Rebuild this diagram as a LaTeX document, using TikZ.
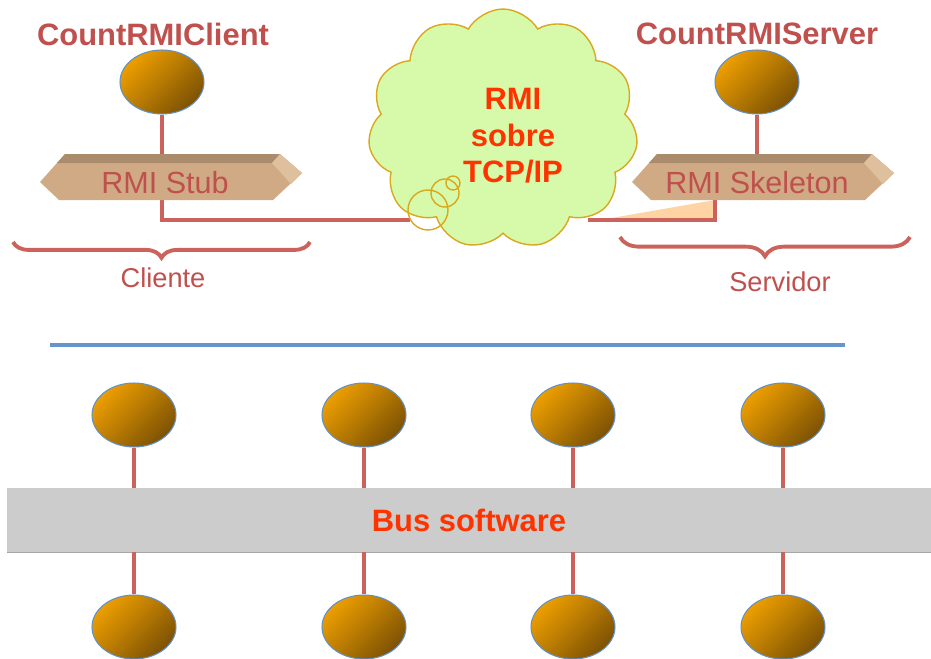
\documentclass[tikz,border=0pt]{standalone}
\usepackage{fontspec}
\setmainfont{Liberation Sans}
\usetikzlibrary{shapes.geometric,shapes.symbols,decorations.pathreplacing}

\definecolor{rojotxt}{RGB}{192,80,77}
\definecolor{linea}{RGB}{204,98,92}
\definecolor{naranja}{RGB}{236,158,0}
\definecolor{marron}{RGB}{125,82,4}
\definecolor{bordeazul}{RGB}{95,145,205}
\definecolor{verdenube}{RGB}{214,250,170}
\definecolor{bordenube}{RGB}{218,168,30}
\definecolor{rojovivo}{RGB}{255,51,0}
\definecolor{gris}{RGB}{204,204,204}
\definecolor{azulsep}{RGB}{100,150,205}
\definecolor{durazno}{RGB}{255,212,165}
\definecolor{caja}{RGB}{207,170,133}
\definecolor{cajatop}{RGB}{170,140,108}
\definecolor{cajabisel}{RGB}{222,192,158}

\pgfdeclarelayer{background}
\pgfsetlayers{background,main}

\begin{document}
\begin{tikzpicture}[x=0.02cm,y=-0.02cm,
  nodo/.style={ellipse, draw=bordeazul, line width=0.6pt, top color=naranja,
    bottom color=marron, shading angle=45, minimum width=1.68cm,
    minimum height=1.28cm, inner sep=0pt},
  link/.style={draw=linea, line width=2.4pt},
  titulo/.style={font=\bfseries\fontsize{17.6}{21}\selectfont, text=rojotxt},
  cajatxt/.style={font=\fontsize{17.4}{21}\selectfont, text=rojotxt},
  etiqueta/.style={font=\fontsize{15.5}{19}\selectfont, text=rojotxt},
  llave/.style={draw=linea, line width=2.2pt, decorate},
  rojo/.style={font=\bfseries\fontsize{17.6}{20.7}\selectfont, text=rojovivo}]

\useasboundingbox (0,0) rectangle (931,659);

% titles and upper objects
\node[titulo] (tcli) at (153,34) {CountRMIClient};
\node[titulo] (tsrv) at (757,34) {CountRMIServer};
\node[nodo] (cli) at (162,82) {};
\node[nodo] (srv) at (757,82) {};

% stub and skeleton boxes
\foreach \bx/\nm/\txt in {40/stub/RMI Stub,632/skel/RMI Skeleton}{
  \begin{scope}[shift={(\bx,0)}]
    \fill[caja] (0,182) -- (25,154) -- (240,154) -- (262,173) -- (233,200) -- (19,200) -- cycle;
    \fill[cajatop] (25,154) -- (240,154) -- (232,163) -- (17,163) -- cycle;
    \fill[cajabisel] (232,163) -- (240,154) -- (262,173) -- (251,184) -- cycle;
  \end{scope}
  \node[cajatxt] (\nm) at (\bx+125,183) {\txt};
}

% cloud
\coordinate (cloudin) at (410,220);
\coordinate (cloudout) at (588,220);
\coordinate (skelout) at (715,195);
\node[cloud, cloud puffs=11, cloud puff arc=120, aspect=1.1, fill=verdenube,
  draw=bordenube, line width=0.8pt, minimum width=5.4cm, minimum height=4.8cm]
  (nube) at (503,129) {};
\draw[bordenube, line width=0.8pt] (428,210) circle (20) (445,193) circle (14)
  (453,183) circle (7);
\node[rojo, align=center] (ntxt) at (513,136) {RMI\\sobre\\TCP/IP};

\begin{pgfonlayer}{background}
  \fill[durazno] (600,220) -- (715,200) -- (715,220) -- cycle;
  \draw[link] (cli) |- (cloudin);
  \draw[link] (srv) -- (srv |- skel);
  \draw[link] (skelout) |- (cloudout);
\end{pgfonlayer}

% braces
\coordinate (b1) at (13,242);
\coordinate (b2) at (310,242);
\coordinate (b3) at (620,237);
\coordinate (b4) at (910,237);
\draw[llave, decoration={brace, mirror, amplitude=9pt}] (b1) -- (b2);
\draw[llave, decoration={brace, mirror, amplitude=11pt}] (b3) -- (b4);
\node[etiqueta] (lcli) at (163,278) {Cliente};
\node[etiqueta] (lsrv) at (780,282) {Servidor};

% separator
\coordinate (sepL) at (50,345);
\coordinate (sepR) at (845,345);
\draw[azulsep, line width=2pt] (sepL) -- (sepR);

% software bus
\node[rojo, fill=gris, minimum width=18.48cm, minimum height=1.28cm, inner sep=0pt]
  (bus) at (469,520) {Bus software};
\draw[gray!70, line width=0.8pt] (bus.south west) -- (bus.south east);

\foreach \i/\x in {1/134,2/364,3/573,4/783}{
  \node[nodo] (up\i) at (\x,415) {};
  \node[nodo] (dn\i) at (\x,627) {};
  \draw[link] (up\i.south) -- (up\i.south |- bus.north);
  \draw[link] (dn\i.north) -- (dn\i.north |- bus.south);
}

\end{tikzpicture}
\end{document}
